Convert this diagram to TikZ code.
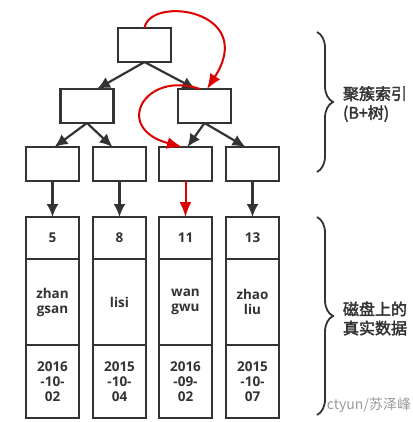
\documentclass[tikz,border=0pt]{standalone}
\usepackage{fontspec}
\setmainfont{Open Sans}
\newfontfamily\cjk{Noto Sans CJK SC}[FakeBold=2.2]
\newfontfamily\cjklight{Noto Sans CJK SC}
\usetikzlibrary{arrows.meta,decorations.pathreplacing}
\definecolor{ink}{HTML}{333333}
\definecolor{hit}{HTML}{DD0000}
\definecolor{wmark}{HTML}{9A9A9A}

\begin{document}
\begin{tikzpicture}[x=1pt,y=-1pt,
  every node/.style={inner sep=0pt,outer sep=0pt,text=ink},
  box/.style={draw=ink,line width=2.2pt,minimum width=53pt,minimum height=34pt},
  cell/.style={draw=ink,line width=2.2pt,minimum width=53pt,align=center,
               font=\bfseries\fontsize{13.5}{15}\selectfont},
  link/.style={draw=ink,line width=2.2pt,-{Latex[length=13pt,width=12pt]}},
  hop/.style={draw=hit,line width=2pt,-{Latex[length=15pt,width=12pt]}},
  brc/.style={draw=ink,line width=1.8pt,decorate,decoration={brace,amplitude=16pt}},
  lbl/.style={font=\cjk\fontsize{16}{19}\selectfont,anchor=west,align=left}]
\useasboundingbox (0,0) rectangle (412,422);

% ---- index tree ----------------------------------------------------------
\node[box] (root) at (144.5,45) {};
\node[box] (m1) at (87,106) {};
\node[box] (m2) at (204.5,106) {};
\foreach \i/\x in {1/52.5,2/119.5,3/185.5,4/252.5} {
  \node[box] (l\i) at (\x,164) {};
}
\draw[link] (root.south) -- ([xshift=10pt]m1.north);
\draw[link] (root.south) -- ([xshift=-9pt]m2.north);
\draw[link] (m1.south) -- ([xshift=2pt]l1.north);
\draw[link] (m1.south) -- ([xshift=-7pt]l2.north);
\draw[link] (m2.south) -- ([xshift=2pt]l3.north);
\draw[link] (m2.south) -- ([xshift=-7pt]l4.north);

% ---- rows on disk --------------------------------------------------------
\foreach \i/\x/\k/\n/\d in {1/52.5/5/{zhan\\gsan}/{2016\\-10-\\02},
                           2/119.5/8/{lisi}/{2015\\-10-\\04},
                           3/185.5/11/{wan\\gwu}/{2016\\-09-\\02},
                           4/252.5/13/{zhao\\liu}/{2015\\-10-\\07}} {
  \node[cell,minimum height=42pt] (k\i) at (\x,238) {\k};
  \node[cell,minimum height=86pt] (n\i) at (\x,302) {\n};
  \node[cell,minimum height=73pt] (d\i) at (\x,381.5) {\d};
}
\foreach \i in {1,2,4} {
  \draw[link] (l\i.south) -- (k\i.north);
}

% ---- lookup path ---------------------------------------------------------
\draw[hop] (root.north) .. controls (150,-5) and (258,10) .. ([xshift=2.5pt]m2.north);
\draw[hop] ([xshift=-4.5pt]m2.north) .. controls (145,70) and (112,128) .. ([xshift=-3.5pt]l3.north);
\draw[hop] (l3.south) -- (k3.north);

% ---- braces --------------------------------------------------------------
\draw[brc] (317,32) -- (317,172);
\node[lbl] (idx) at (343,104) {聚簇索引\\(B+树)};
\draw[brc] (317,217) -- (317,415);
\node[lbl] (disk) at (343,318.5) {磁盘上的\\真实数据};
\node[font=\cjklight\fontsize{14}{16}\selectfont,text=wmark,anchor=east] (wm) at (411,405) {ctyun/苏泽峰};
\end{tikzpicture}
\end{document}
